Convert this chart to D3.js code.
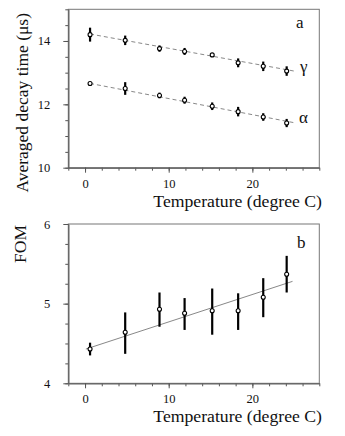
<!DOCTYPE html>
<html>
<head>
<meta charset="utf-8">
<script src="https://cdn.jsdelivr.net/npm/d3@7"></script>
<style>
  body { margin: 0; background: #fff; }
  svg { display: block; }
  text { font-family: "Liberation Serif", "Times New Roman", serif; fill: #111; }
</style>
</head>
<body>
<div id="chart"></div>
<script>
// temperatures (degree C) of the measurements
const temps = [0.6, 4.8, 8.9, 11.9, 15.2, 18.3, 21.3, 24.1];

// panel a: averaged decay time (us)
const gammaTau = [14.2, 14.02, 13.76, 13.67, 13.56, 13.31, 13.2, 13.05];
const gammaErr = [0.22, 0.15, 0.1, 0.11, 0, 0.14, 0.15, 0.15];
const alphaTau = [12.66, 12.5, 12.28, 12.13, 11.94, 11.77, 11.6, 11.41];
const alphaErr = [0, 0.2, 0.09, 0.11, 0.12, 0.15, 0.12, 0.13];
const gammaFit = [[0.6, 14.22], [25, 13.05]];
const alphaFit = [[0.6, 12.66], [25, 11.42]];

// panel b: FOM
const fom = [4.43, 4.64, 4.93, 4.88, 4.91, 4.91, 5.08, 5.37];
const fomLo = [4.35, 4.37, 4.71, 4.67, 4.61, 4.67, 4.83, 5.14];
const fomHi = [4.51, 4.89, 5.14, 5.07, 5.19, 5.13, 5.32, 5.6];
const fomFit = [[0.1, 4.43], [24.8, 5.28]];

// ticks
const xMajor = [0, 10, 20];
const xMinor = d3.range(-2, 28.01, 2);
const aMajor = [10, 12, 14];
const aMinor = d3.range(10, 15.01, 0.5);
const bMajor = [4, 5, 6];
const bMinor = d3.range(4, 6.01, 0.25);

const W = 345, H = 436;
const serif = '"Liberation Serif", "Times New Roman", serif';
const svg = d3.select("#chart").append("svg").attr("width", W).attr("height", H);
svg.append("rect").attr("width", W).attr("height", H).attr("fill", "#fff");

const x = d3.scaleLinear().domain([-2, 28]).range([68.3, 319.3]);
const ya = d3.scaleLinear().domain([10, 15]).range([167.7, 9.3]);
const yb = d3.scaleLinear().domain([4, 6]).range([383.3, 224]);

function panel(y, yMajor, yMinor) {
  const g = svg.append("g");
  const x0 = x.range()[0], x1 = x.range()[1];
  const y0 = y.range()[0], y1 = y.range()[1];
  g.append("rect").attr("x", x0).attr("y", y1)
    .attr("width", x1 - x0).attr("height", y0 - y1)
    .attr("fill", "none").attr("stroke", "#777").attr("stroke-width", 1);

  const bottom = g.append("g").attr("transform", `translate(0,${y0})`);
  bottom.append("g").call(d3.axisBottom(x).tickValues(xMinor).tickSize(3).tickSizeOuter(0).tickFormat(""));
  bottom.append("g").call(d3.axisBottom(x).tickValues(xMajor).tickSize(5).tickSizeOuter(0).tickPadding(6));

  const left = g.append("g").attr("transform", `translate(${x0},0)`);
  left.append("g").call(d3.axisLeft(y).tickValues(yMinor).tickSize(3).tickSizeOuter(0).tickFormat(""));
  left.append("g").call(d3.axisLeft(y).tickValues(yMajor).tickSize(5).tickSizeOuter(0).tickPadding(13).tickFormat(d3.format("d")));

  g.selectAll(".domain").attr("stroke", "#666");
  g.selectAll(".tick line").attr("stroke", "#555");
  g.selectAll(".tick text").attr("font-size", 12.5).style("font-family", serif).attr("fill", "#111");
  return g;
}

function points(g, y, vals, lo, hi) {
  g.append("g").selectAll("line").data(vals).join("line")
    .attr("x1", (d, i) => x(temps[i])).attr("x2", (d, i) => x(temps[i]))
    .attr("y1", (d, i) => y(lo[i])).attr("y2", (d, i) => y(hi[i]))
    .attr("stroke", "#000").attr("stroke-width", 2.2);
  g.append("g").selectAll("circle").data(vals).join("circle")
    .attr("cx", (d, i) => x(temps[i])).attr("cy", d => y(d))
    .attr("r", 2).attr("fill", "#fff").attr("stroke", "#000").attr("stroke-width", 1.1);
}

function fitLine(g, y, pts, dashed) {
  g.append("path").datum(pts)
    .attr("d", d3.line().x(d => x(d[0])).y(d => y(d[1])))
    .attr("fill", "none").attr("stroke", "#888").attr("stroke-width", 1)
    .attr("stroke-dasharray", dashed ? "4,3" : null);
}

// panel a
const ga = panel(ya, aMajor, aMinor);
fitLine(ga, ya, gammaFit, true);
fitLine(ga, ya, alphaFit, true);
points(ga, ya, gammaTau, gammaTau.map((v, i) => v - gammaErr[i]), gammaTau.map((v, i) => v + gammaErr[i]));
points(ga, ya, alphaTau, alphaTau.map((v, i) => v - alphaErr[i]), alphaTau.map((v, i) => v + alphaErr[i]));

ga.append("text").attr("x", 296).attr("y", 28).attr("font-size", 17).text("a");
ga.append("text").attr("x", 300).attr("y", 72).attr("font-size", 17).text("γ");
ga.append("text").attr("x", 299).attr("y", 123).attr("font-size", 17).text("α");
ga.append("text").attr("x", 322).attr("y", 206.5).attr("text-anchor", "end")
  .attr("font-size", 17.7).text("Temperature (degree C)");
ga.append("text").attr("transform", "translate(28,13) rotate(-90)")
  .attr("text-anchor", "end").attr("font-size", 17.5).text("Averaged decay time (μs)");

// panel b
const gb = panel(yb, bMajor, bMinor);
fitLine(gb, yb, fomFit, false);
points(gb, yb, fom, fomLo, fomHi);

gb.append("text").attr("x", 297).attr("y", 248).attr("font-size", 17).text("b");
gb.append("text").attr("x", 322).attr("y", 422).attr("text-anchor", "end")
  .attr("font-size", 17.7).text("Temperature (degree C)");
gb.append("text").attr("transform", "translate(26,225) rotate(-90)")
  .attr("text-anchor", "end").attr("font-size", 17.5).text("FOM");
</script>
</body>
</html>
